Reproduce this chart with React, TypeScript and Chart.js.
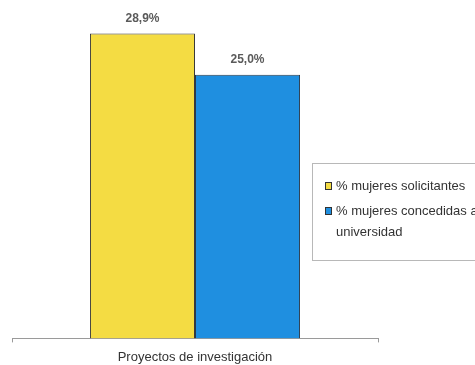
import React, { useEffect, useRef } from "react";
import { Chart, registerables } from "chart.js";

Chart.register(...registerables);

const categories = ["Proyectos de investigación"];
const seriesLabels = ["% mujeres solicitantes", "% mujeres concedidas a\nuniversidad"];
const solicitantes = [28.9];
const concedidas = [25.0];
const seriesColors = ["#f4dc43", "#1f8fe0"];

const fmt = (v: number) => v.toFixed(1).replace(".", ",") + "%";

const labelPlugin = {
  id: "valueLabels",
  afterDatasetsDraw(chart: any) {
    const ctx = chart.ctx;
    ctx.save();
    ctx.font = "bold 12px 'Liberation Sans', Arial, sans-serif";
    ctx.fillStyle = "#5a5a5a";
    ctx.textAlign = "center";
    ctx.textBaseline = "middle";
    chart.data.datasets.forEach((ds: any, i: number) => {
      const meta = chart.getDatasetMeta(i);
      meta.data.forEach((bar: any, j: number) => {
        ctx.fillText(fmt(ds.data[j]), bar.x, bar.y - 15);
      });
    });
    ctx.restore();
  },
};

const legendPlugin = {
  id: "boxLegend",
  afterDraw(chart: any) {
    const ctx = chart.ctx;
    ctx.save();
    ctx.strokeStyle = "#b8b8b8";
    ctx.lineWidth = 1;
    ctx.strokeRect(312.5, 163.5, 200, 97);
    ctx.font = "13px 'Liberation Sans Narrow', 'Arial Narrow', 'Liberation Sans', Arial, sans-serif";
    ctx.textBaseline = "middle";
    ctx.textAlign = "left";
    let y = 186;
    chart.data.datasets.forEach((ds: any) => {
      ctx.fillStyle = ds.backgroundColor;
      ctx.fillRect(325, y - 4, 7, 8);
      ctx.strokeStyle = "#333";
      ctx.strokeRect(325.5, y - 3.5, 6, 7);
      ctx.fillStyle = "#333";
      const lines = String(ds.label).split("\n");
      lines.forEach((ln: string, k: number) => {
        ctx.fillText(ln, 336, y + k * 21);
      });
      y += 25 + (lines.length - 1) * 21;
    });
    ctx.restore();
  },
};

export default function App() {
  const ref = useRef<HTMLCanvasElement>(null);
  useEffect(() => {
    const chart = new Chart(ref.current!, {
      type: "bar",
      data: {
        labels: categories,
        datasets: [
          {
            label: seriesLabels[0],
            data: solicitantes,
            backgroundColor: seriesColors[0],
            borderColor: "#3a3a3a",
            borderWidth: 1,
          },
          {
            label: seriesLabels[1],
            data: concedidas,
            backgroundColor: seriesColors[1],
            borderColor: "#2a3a4a",
            borderWidth: 1,
          },
        ],
      },
      options: {
        animation: false,
        responsive: false,
        maintainAspectRatio: false,
        layout: { padding: { left: 12, right: 97, top: 22, bottom: 0 } },
        datasets: { bar: { categoryPercentage: 0.574, barPercentage: 1 } },
        plugins: {
          legend: { display: false },
          tooltip: { enabled: false },
        },
        scales: {
          x: {
            grid: {
              display: true,
              drawOnChartArea: false,
              drawTicks: true,
              tickLength: 4,
              color: "#9a9a9a",
              offset: true,
            },
            border: { display: true, color: "#9a9a9a", width: 1 },
            ticks: {
              color: "#333",
              font: { family: "'Liberation Sans', Arial, sans-serif", size: 13 },
              padding: 7,
            },
          },
          y: {
            display: false,
            min: 0,
            max: 30,
          },
        },
      },
      plugins: [labelPlugin, legendPlugin],
    });
    return () => chart.destroy();
  }, []);
  return (
    <div style={{ position: "fixed", left: 0, top: 0, width: 475, height: 365, overflow: "hidden", background: "#fff" }}>
      <canvas ref={ref} width={475} height={372} style={{ width: 475, height: 372 }} />
    </div>
  );
}
